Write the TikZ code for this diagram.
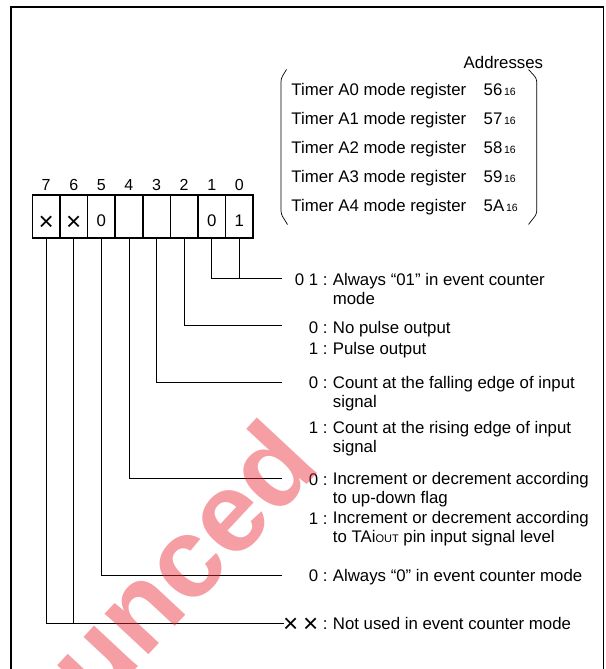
\documentclass[tikz,border=0pt]{standalone}
\usepackage{fontspec}
\setmainfont{Liberation Sans}
\usepackage{xcolor}
\usepackage{tikz}
\usetikzlibrary{positioning, calc}
\definecolor{stampred}{RGB}{232,40,50}
\newcommand{\bitx}{\raisebox{-3.6pt}{\fontsize{26pt}{26pt}\selectfont ×}}
\newcommand{\hexsub}[1]{{\fontsize{10.5pt}{10.5pt}\selectfont\,#1}}

\begin{document}
\begin{tikzpicture}[
        x=1pt, y=-1pt,
        font=\fontsize{16.8pt}{19pt}\selectfont,
        bitcell/.style={draw, line width=1.6pt, minimum width=27.6pt, minimum height=42.6pt, inner sep=0pt, text height=20pt, text depth=0pt},
        bitnum/.style={anchor=base, inner sep=0pt, font=\fontsize{16pt}{16pt}\selectfont},
        regtext/.style={anchor=base west, inner sep=0pt},
        bitval/.style={anchor=base east, inner sep=0pt},
        bitdesc/.style={anchor=base west, inner sep=0pt, align=left},
        lead/.style={line width=0.8pt},
        stamp/.style={inner sep=0pt, rotate=47, text=stampred, text opacity=0.45, font=\fontsize{113pt}{113pt}\selectfont\bfseries}
    ]
        \useasboundingbox (0,0) rectangle (605,669);

        % frame
        \draw[line width=2.2pt] (11,669) -- (11,7) -- (604,7);
        \draw[line width=1pt] (603.8,7) -- (603.8,669);

        % register list
        \node[regtext] (addr) at (463.5,68.5) {Addresses};
        \node[regtext] (tm0) at (291.2,95)  {Timer A0 mode register};
        \node[regtext] (tm1) at (291.2,124) {Timer A1 mode register};
        \node[regtext] (tm2) at (291.2,153) {Timer A2 mode register};
        \node[regtext] (tm3) at (291.2,182) {Timer A3 mode register};
        \node[regtext] (tm4) at (291.2,211) {Timer A4 mode register};
        \node[regtext] (ad0) at (483.5,95)  {56\hexsub{16}};
        \node[regtext] (ad1) at (483.5,124) {57\hexsub{16}};
        \node[regtext] (ad2) at (483.5,153) {58\hexsub{16}};
        \node[regtext] (ad3) at (483.5,182) {59\hexsub{16}};
        \node[regtext] (ad4) at (483.5,211) {5A\hexsub{16}};
        \draw[line width=0.7pt, rounded corners=3pt] (286.5,69.5) -- (281,78.5) -- (281,214) -- (287.5,224.5);
        \draw[line width=0.7pt, rounded corners=3pt] (528.5,69.5) -- (536.7,78.5) -- (536.7,214) -- (528.5,224.5);

        % bit numbers
        \node[bitnum] (n7) at (46.1,190)  {7};
        \node[bitnum] (n6) at (73.7,190)  {6};
        \node[bitnum] (n5) at (101.3,190) {5};
        \node[bitnum] (n4) at (128.9,190) {4};
        \node[bitnum] (n3) at (156.5,190) {3};
        \node[bitnum] (n2) at (184.1,190) {2};
        \node[bitnum] (n1) at (211.7,190) {1};
        \node[bitnum] (n0) at (239.3,190) {0};

        % register bits
        \node[bitcell] (b7) at (46.1,216.5)  {\bitx};
        \node[bitcell] (b6) at (73.7,216.5)  {\bitx};
        \node[bitcell] (b5) at (101.3,216.5) {0};
        \node[bitcell] (b4) at (128.9,216.5) {};
        \node[bitcell] (b3) at (156.5,216.5) {};
        \node[bitcell] (b2) at (184.1,216.5) {};
        \node[bitcell] (b1) at (211.7,216.5) {0};
        \node[bitcell] (b0) at (239.3,216.5) {1};

        % bit descriptions (two-line texts sit on their last line)
        \node[bitval]  (v1)  at (327.8,285)   {0 1 :};
        \node[bitdesc] (d1)  at (332.7,304.5) {Always “01” in event counter\\mode};
        \node[bitval]  (v2a) at (327.8,333)   {0 :};
        \node[bitdesc] (d2a) at (332.7,333)   {No pulse output};
        \node[bitval]  (v2b) at (327.8,354)   {1 :};
        \node[bitdesc] (d2b) at (332.7,354)   {Pulse output};
        \node[bitval]  (v3a) at (327.8,388)   {0 :};
        \node[bitdesc] (d3a) at (332.7,407)   {Count at the falling edge of input\\signal};
        \node[bitval]  (v3b) at (327.8,433)   {1 :};
        \node[bitdesc] (d3b) at (332.7,452)   {Count at the rising edge of input\\signal};
        \node[bitval]  (v4a) at (327.8,485)   {0 :};
        \node[bitdesc] (d4a) at (332.7,503.5) {Increment or decrement according\\to up-down flag};
        \node[bitval]  (v4b) at (327.8,524)   {1 :};
        \node[bitdesc] (d4b) at (332.7,542.5) {Increment or decrement according\\to TAi{\fontsize{11pt}{11pt}\selectfont OUT} pin input signal level};
        \node[bitval]  (v5)  at (327.8,581)   {0 :};
        \node[bitdesc] (d5)  at (332.7,581)   {Always “0” in event counter mode};
        \node[bitval]  (v6)  at (327.8,629)   {\bitx{} \bitx{} :};
        \node[bitdesc] (d6)  at (332.7,629)   {Not used in event counter mode};

        % leader lines
        \coordinate (e1) at (282,278);
        \coordinate (e2) at (282,325);
        \coordinate (e3) at (282,382.3);
        \coordinate (e4) at (282,478.3);
        \coordinate (e5) at (282,575);
        \coordinate (e6) at (284,623.3);
        \draw[lead] (b1.south) |- (e1);
        \draw[lead] (b0.south) -- (b0.south |- e1);
        \draw[lead] (b2.south) |- (e2);
        \draw[lead] (b3.south) |- (e3);
        \draw[lead] (b4.south) |- (e4);
        \draw[lead] (b5.south) |- (e5);
        \draw[lead] (b7.south) |- (e6);
        \draw[lead] (b6.south) -- (b6.south |- e6);

        % stamp over the page
        \node[stamp] (wm) at (180,562) {unced};
    \end{tikzpicture}
\end{document}
